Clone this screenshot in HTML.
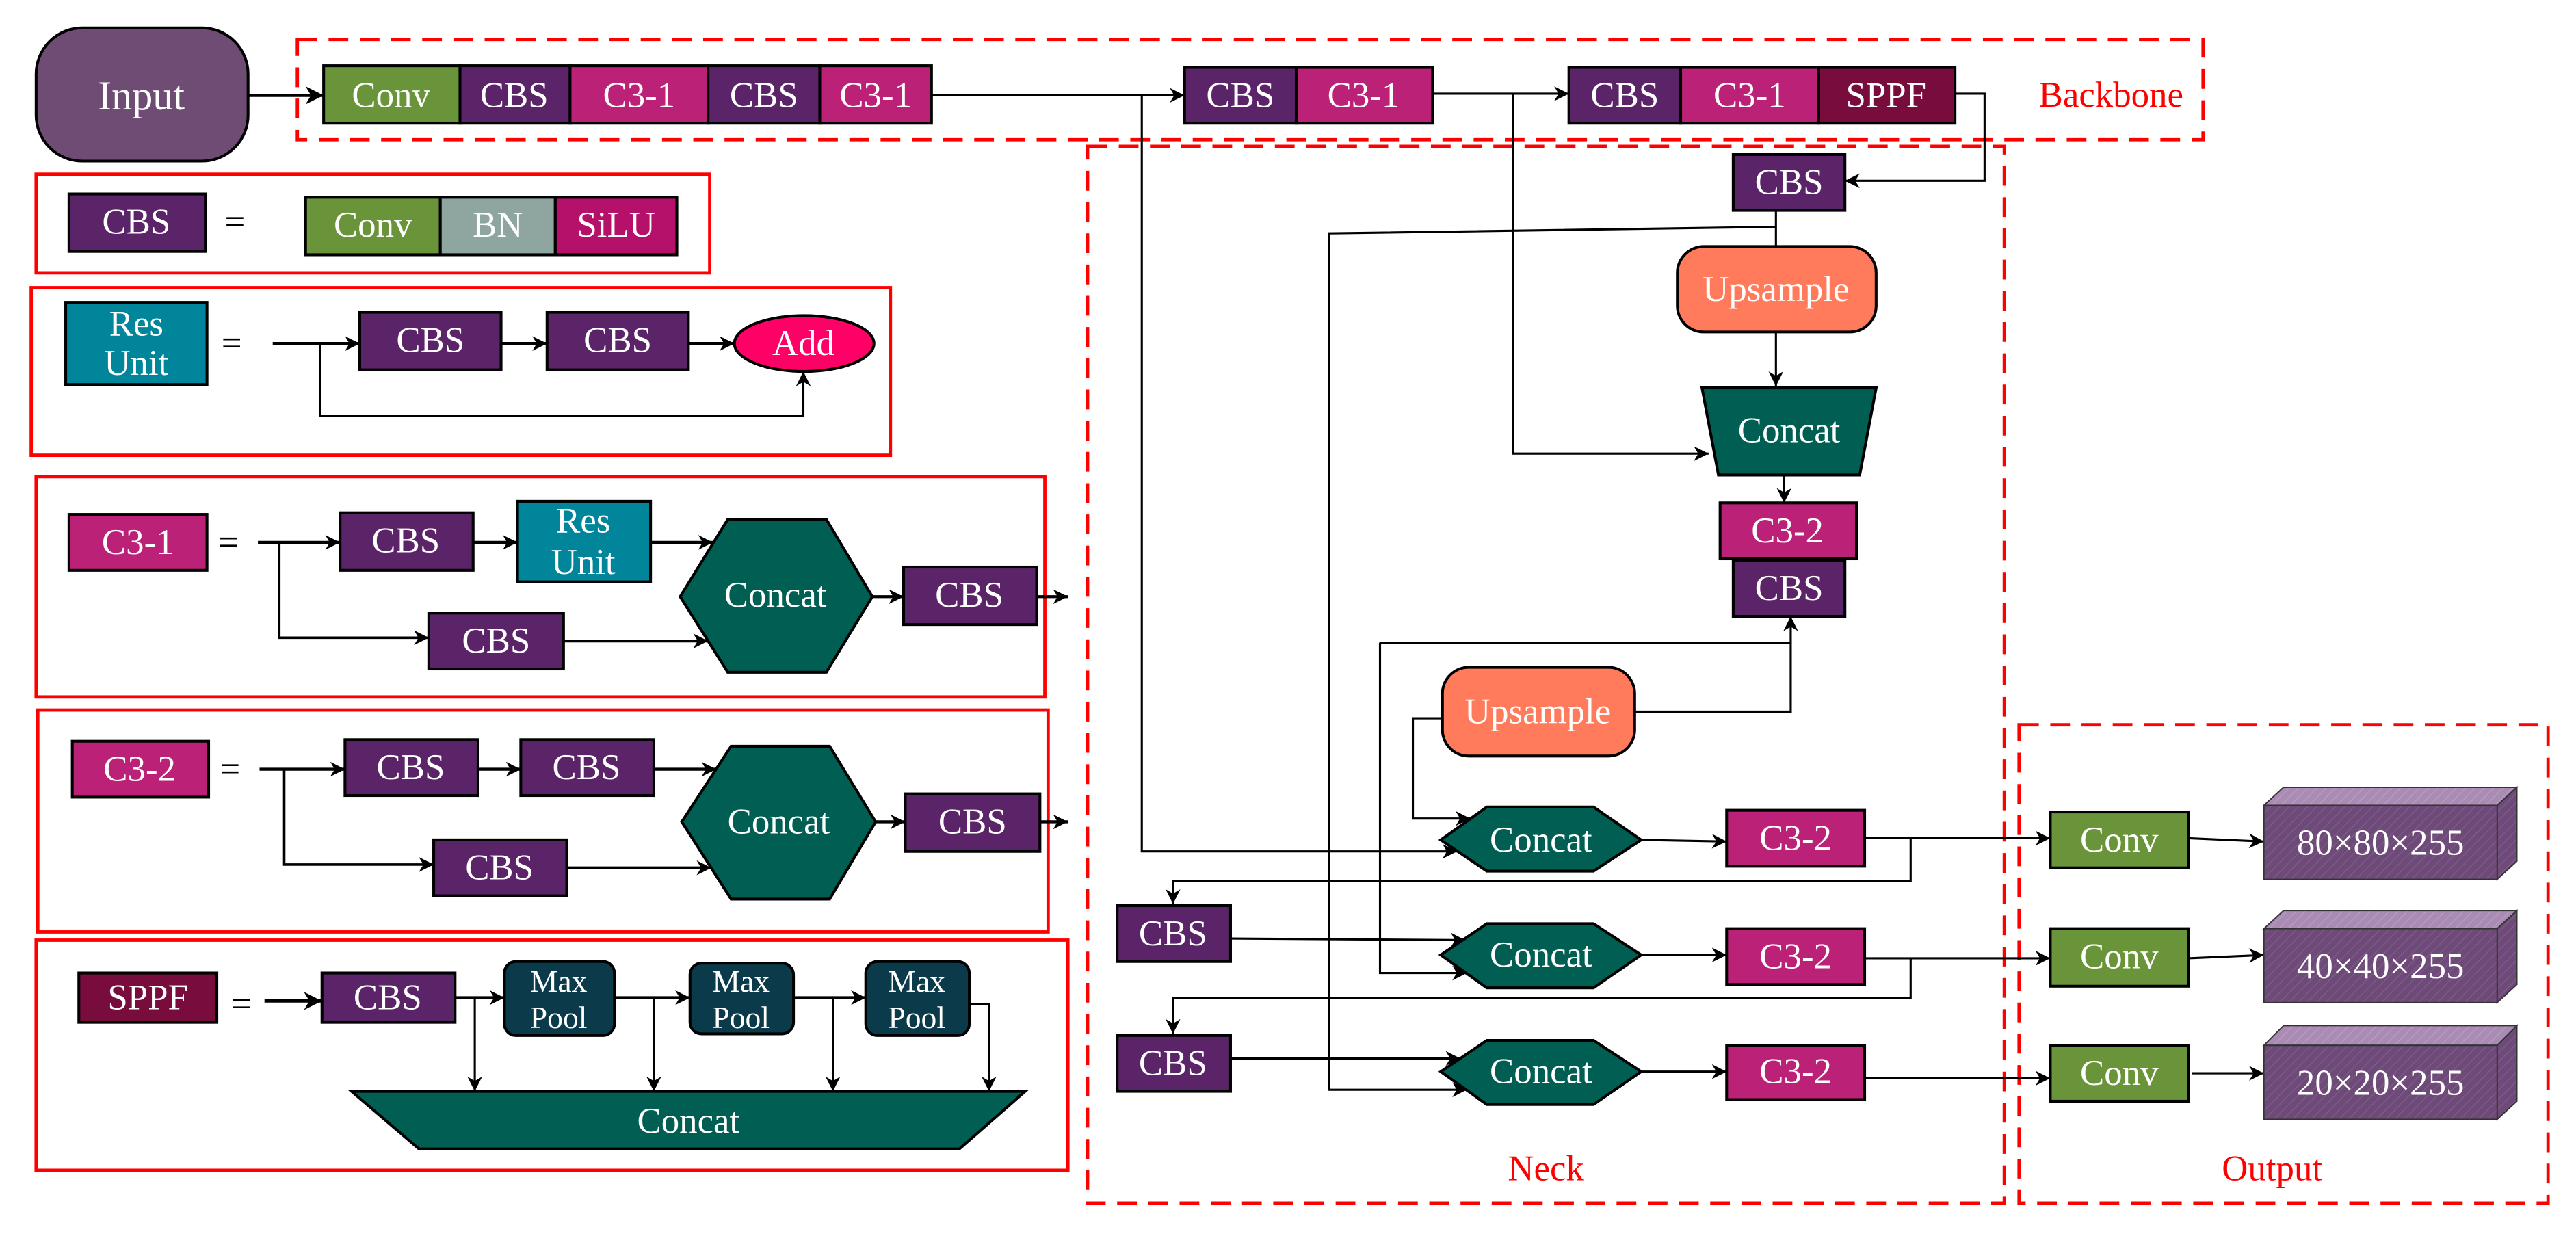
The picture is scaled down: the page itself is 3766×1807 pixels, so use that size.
<!DOCTYPE html>
<html><head><meta charset="utf-8"><style>
html,body{margin:0;padding:0;background:#fff;}
svg{display:block;}
text{font-family:"Liberation Serif",serif;}
</style></head><body>
<svg width="3766" height="1807" viewBox="0 0 1568 752" preserveAspectRatio="none" xmlns="http://www.w3.org/2000/svg">
<defs>
<marker id="a" viewBox="0 0 10 10" refX="10" refY="5" markerWidth="9" markerHeight="9" markerUnits="userSpaceOnUse" orient="auto"><path d="M0,0 L10,5 L0,10 L3,5 z" fill="#000"/></marker>
<marker id="b" viewBox="0 0 10 10" refX="10" refY="5" markerWidth="11" markerHeight="11" markerUnits="userSpaceOnUse" orient="auto"><path d="M0,0 L10,5 L0,10 L3,5 z" fill="#000"/></marker>
<pattern id="h" width="4" height="4" patternUnits="userSpaceOnUse" patternTransform="rotate(45)"><rect width="4" height="4" fill="#6E4A78"/><line x1="0" y1="0" x2="0" y2="4" stroke="#7D5A88" stroke-width="1.2"/></pattern>
<pattern id="h2" width="4" height="4" patternUnits="userSpaceOnUse" patternTransform="rotate(45)"><rect width="4" height="4" fill="#A98BB3"/><line x1="0" y1="0" x2="0" y2="4" stroke="#B89CC1" stroke-width="1.2"/></pattern>
</defs>
<g fill="none" stroke="#f00" stroke-width="2" stroke-dasharray="12 7">
<rect x="181" y="24" width="1160" height="61"/>
<rect x="662" y="89" width="558" height="643"/>
<rect x="1229" y="441" width="322" height="291"/>
</g>
<g fill="none" stroke="#f00" stroke-width="2">
<rect x="22" y="106" width="410" height="60"/>
<rect x="19" y="175" width="523" height="102"/>
<rect x="22" y="290" width="614" height="134"/>
<rect x="23" y="432" width="615" height="135"/>
<rect x="22" y="572" width="628" height="140"/>
</g>
<g font-size="22" fill="#f00" text-anchor="middle">
<text x="1285" y="65">Backbone</text>
<text x="941" y="718">Neck</text>
<text x="1383" y="718">Output</text>
</g>
<g stroke="#000" stroke-width="1.3" fill="none">
<path d="M151,58 H197" marker-end="url(#b)" stroke-width="2"/>
<path d="M567,58 H721" marker-end="url(#a)"/>
<path d="M872,57 H955" marker-end="url(#a)"/>
<path d="M1190,57 H1208 V110 H1123" marker-end="url(#a)"/>
<path d="M695,58 V518 H887" marker-end="url(#a)"/>
<path d="M921,57 V276 H1040" marker-end="url(#a)"/>
<path d="M1081,128 V150"/>
<path d="M1081,138 L809,142 V663 H893" marker-end="url(#a)"/>
<path d="M1081,202 V235" marker-end="url(#a)"/>
<path d="M1086,289 V306" marker-end="url(#a)"/>
<path d="M995,433 H1090 V375" marker-end="url(#a)"/>
<path d="M840,391 H1090"/>
<path d="M840,391 V592 H893" marker-end="url(#a)"/>
<path d="M878,437 H860 V498 H895" marker-end="url(#a)"/>
<path d="M749,571 L892,572" marker-end="url(#a)"/>
<path d="M749,644 H889" marker-end="url(#a)"/>
<path d="M999,511 L1051,512" marker-end="url(#a)"/>
<path d="M999,581 H1051" marker-end="url(#a)"/>
<path d="M999,652 H1051" marker-end="url(#a)"/>
<path d="M1135,510 H1248" marker-end="url(#a)"/>
<path d="M1135,583 H1248" marker-end="url(#a)"/>
<path d="M1135,656 H1248" marker-end="url(#a)"/>
<path d="M1163,510 V536 H714 V550" marker-end="url(#a)"/>
<path d="M1163,583 V607 H714 V629" marker-end="url(#a)"/>
<path d="M1332,510 L1378,512" marker-end="url(#a)"/>
<path d="M1332,583 L1378,581" marker-end="url(#a)"/>
<path d="M1334,653 H1378" marker-end="url(#a)"/>
<path d="M166,209 H219" marker-end="url(#a)" stroke-width="1.8"/>
<path d="M305,209 H333" marker-end="url(#a)" stroke-width="1.8"/>
<path d="M419,209 H447" marker-end="url(#a)" stroke-width="1.8"/>
<path d="M195,209 V253 H489 V226" marker-end="url(#a)"/>
<path d="M157,330 H207" marker-end="url(#a)" stroke-width="1.8"/>
<path d="M288,330 H315" marker-end="url(#a)" stroke-width="1.8"/>
<path d="M396,330 H434" marker-end="url(#a)" stroke-width="1.8"/>
<path d="M170,330 V388 H261" marker-end="url(#a)" stroke-width="1.5"/>
<path d="M343,390 H431" marker-end="url(#a)" stroke-width="1.8"/>
<path d="M531,363 H550" marker-end="url(#a)" stroke-width="1.8"/>
<path d="M631,363 H650" marker-end="url(#a)" stroke-width="1.8"/>
<path d="M158,468 H210" marker-end="url(#a)" stroke-width="1.8"/>
<path d="M291,468 H317" marker-end="url(#a)" stroke-width="1.8"/>
<path d="M398,468 H436" marker-end="url(#a)" stroke-width="1.8"/>
<path d="M173,468 V526 H264" marker-end="url(#a)" stroke-width="1.5"/>
<path d="M345,528 H433" marker-end="url(#a)" stroke-width="1.8"/>
<path d="M533,500 H551" marker-end="url(#a)" stroke-width="1.8"/>
<path d="M633,500 H650" marker-end="url(#a)" stroke-width="1.8"/>
<path d="M161,609 H196" marker-end="url(#b)" stroke-width="2"/>
<path d="M277,607 H307" marker-end="url(#a)" stroke-width="1.8"/>
<path d="M374,607 H420" marker-end="url(#a)" stroke-width="1.8"/>
<path d="M483,607 H527" marker-end="url(#a)" stroke-width="1.8"/>
<path d="M289,607 V664" marker-end="url(#a)"/>
<path d="M398,607 V664" marker-end="url(#a)"/>
<path d="M507,607 V664" marker-end="url(#a)"/>
<path d="M590,611 H602 V664" marker-end="url(#a)"/>
</g>
<g stroke="#000" stroke-width="1.7">
<rect x="22" y="17" width="129" height="81" rx="28" fill="#6F4C73"/>
<rect x="197" y="40" width="83" height="35" fill="#6A9439"/>
<rect x="280" y="40" width="67" height="35" fill="#5B2468"/>
<rect x="347" y="40" width="84" height="35" fill="#BB2277"/>
<rect x="431" y="40" width="68" height="35" fill="#5B2468"/>
<rect x="499" y="40" width="68" height="35" fill="#BB2277"/>
<rect x="721" y="41" width="68" height="34" fill="#5B2468"/>
<rect x="789" y="41" width="83" height="34" fill="#BB2277"/>
<rect x="955" y="41" width="68" height="34" fill="#5B2468"/>
<rect x="1023" y="41" width="84" height="34" fill="#BB2277"/>
<rect x="1107" y="41" width="83" height="34" fill="#780C3C"/>
<rect x="1055" y="94" width="68" height="34" fill="#5B2468"/>
<rect x="1021" y="150" width="121" height="52" rx="16" fill="#FF7B5B"/>
<polygon points="1036,236 1142,236 1132,289 1046,289" fill="#005E52"/>
<rect x="1047" y="306" width="83" height="34" fill="#BB2277"/>
<rect x="1055" y="341" width="68" height="34" fill="#5B2468"/>
<rect x="878" y="406" width="117" height="54" rx="16" fill="#FF7B5B"/>
<polygon points="877,511 905,491 970,491 999,511 970,530 905,530" fill="#005E52"/>
<polygon points="877,581 905,562 970,562 999,581 970,601 905,601" fill="#005E52"/>
<polygon points="877,652 905,633 970,633 999,652 970,672 905,672" fill="#005E52"/>
<rect x="1051" y="493" width="84" height="34" fill="#BB2277"/>
<rect x="1051" y="565" width="84" height="34" fill="#BB2277"/>
<rect x="1051" y="636" width="84" height="33" fill="#BB2277"/>
<rect x="680" y="551" width="69" height="34" fill="#5B2468"/>
<rect x="680" y="630" width="69" height="34" fill="#5B2468"/>
<rect x="1248" y="494" width="84" height="34" fill="#6A9439"/>
<rect x="1248" y="565" width="84" height="35" fill="#6A9439"/>
<rect x="1248" y="636" width="84" height="34" fill="#6A9439"/>
<rect x="42" y="118" width="83" height="35" fill="#5B2468"/>
<rect x="186" y="120" width="82" height="35" fill="#6A9439"/>
<rect x="268" y="120" width="70" height="35" fill="#8FA6A0"/>
<rect x="338" y="120" width="74" height="35" fill="#B5106A"/>
<rect x="40" y="184" width="86" height="50" fill="#00859B"/>
<rect x="219" y="190" width="86" height="35" fill="#5B2468"/>
<rect x="333" y="190" width="86" height="35" fill="#5B2468"/>
<ellipse cx="489.5" cy="209" rx="42.5" ry="17" fill="#FF0066"/>
<rect x="42" y="313" width="84" height="34" fill="#BB2277"/>
<rect x="207" y="312" width="81" height="35" fill="#5B2468"/>
<rect x="315" y="305" width="81" height="49" fill="#00859B"/>
<polygon points="414,363 443,316 503,316 531,363 503,409 443,409" fill="#005E52"/>
<rect x="261" y="373" width="82" height="34" fill="#5B2468"/>
<rect x="550" y="345" width="81" height="35" fill="#5B2468"/>
<rect x="44" y="451" width="83" height="34" fill="#BB2277"/>
<rect x="210" y="450" width="81" height="34" fill="#5B2468"/>
<rect x="317" y="450" width="81" height="34" fill="#5B2468"/>
<polygon points="415,500 445,454 505,454 533,500 505,547 445,547" fill="#005E52"/>
<rect x="264" y="511" width="81" height="34" fill="#5B2468"/>
<rect x="551" y="483" width="82" height="35" fill="#5B2468"/>
<rect x="48" y="592" width="84" height="30" fill="#780C3C"/>
<rect x="196" y="592" width="81" height="30" fill="#5B2468"/>
<rect x="307" y="585" width="67" height="45" rx="7" fill="#0B3A4A"/>
<rect x="420" y="586" width="63" height="43" rx="7" fill="#0B3A4A"/>
<rect x="527" y="585" width="63" height="45" rx="7" fill="#0B3A4A"/>
<polygon points="214,664 624,664 584,699 255,699" fill="#005E52"/>
</g>
<g stroke="#333" stroke-width="0.8">
<polygon points="1378,490 1390,479 1532,479 1520,490" fill="url(#h2)"/>
<polygon points="1520,490 1532,479 1532,524 1520,535" fill="url(#h)"/>
<rect x="1378" y="490" width="142" height="45" fill="url(#h)"/>
<polygon points="1378,565 1390,554 1532,554 1520,565" fill="url(#h2)"/>
<polygon points="1520,565 1532,554 1532,599 1520,610" fill="url(#h)"/>
<rect x="1378" y="565" width="142" height="45" fill="url(#h)"/>
<polygon points="1378,636 1390,624 1532,624 1520,636" fill="url(#h2)"/>
<polygon points="1520,636 1532,624 1532,670 1520,681" fill="url(#h)"/>
<rect x="1378" y="636" width="142" height="45" fill="url(#h)"/>
</g>
<g fill="#fff" font-size="22" text-anchor="middle" dominant-baseline="central">
<text x="86" y="58" font-size="25">Input</text>
<text x="238" y="58">Conv</text><text x="313" y="58">CBS</text><text x="389" y="58">C3-1</text><text x="465" y="58">CBS</text><text x="533" y="58">C3-1</text>
<text x="755" y="58">CBS</text><text x="830" y="58">C3-1</text><text x="989" y="58">CBS</text><text x="1065" y="58">C3-1</text><text x="1148" y="58">SPPF</text>
<text x="1089" y="111">CBS</text>
<text x="1081" y="176">Upsample</text>
<text x="1089" y="262">Concat</text>
<text x="1088" y="323">C3-2</text>
<text x="1089" y="358">CBS</text>
<text x="936" y="433">Upsample</text>
<text x="938" y="511">Concat</text><text x="938" y="581">Concat</text><text x="938" y="652">Concat</text>
<text x="1093" y="510">C3-2</text><text x="1093" y="582">C3-2</text><text x="1093" y="652">C3-2</text>
<text x="714" y="568">CBS</text><text x="714" y="647">CBS</text>
<text x="1290" y="511">Conv</text><text x="1290" y="582">Conv</text><text x="1290" y="653">Conv</text>
<text x="1449" y="513">80×80×255</text><text x="1449" y="588">40×40×255</text><text x="1449" y="659">20×20×255</text>
<text x="83" y="135">CBS</text>
<text x="227" y="137">Conv</text><text x="303" y="137">BN</text><text x="375" y="137">SiLU</text>
<text x="83" y="197">Res</text><text x="83" y="221">Unit</text>
<text x="262" y="207">CBS</text><text x="376" y="207">CBS</text><text x="489" y="209">Add</text>
<text x="84" y="330">C3-1</text><text x="247" y="329">CBS</text>
<text x="355" y="317">Res</text><text x="355" y="342">Unit</text>
<text x="472" y="362">Concat</text><text x="302" y="390">CBS</text><text x="590" y="362">CBS</text>
<text x="85" y="468">C3-2</text><text x="250" y="467">CBS</text><text x="357" y="467">CBS</text>
<text x="474" y="500">Concat</text><text x="304" y="528">CBS</text><text x="592" y="500">CBS</text>
<text x="90" y="607">SPPF</text><text x="236" y="607">CBS</text>
<text x="340" y="597" font-size="19">Max</text><text x="340" y="619" font-size="19">Pool</text>
<text x="451" y="597" font-size="19">Max</text><text x="451" y="619" font-size="19">Pool</text>
<text x="558" y="597" font-size="19">Max</text><text x="558" y="619" font-size="19">Pool</text>
<text x="419" y="682">Concat</text>
</g>
<g fill="#000" font-size="22" text-anchor="middle" dominant-baseline="central">
<text x="143" y="135">=</text><text x="141" y="209">=</text><text x="139" y="330">=</text><text x="140" y="468">=</text><text x="147" y="611">=</text>
</g>
</svg>
</body></html>
